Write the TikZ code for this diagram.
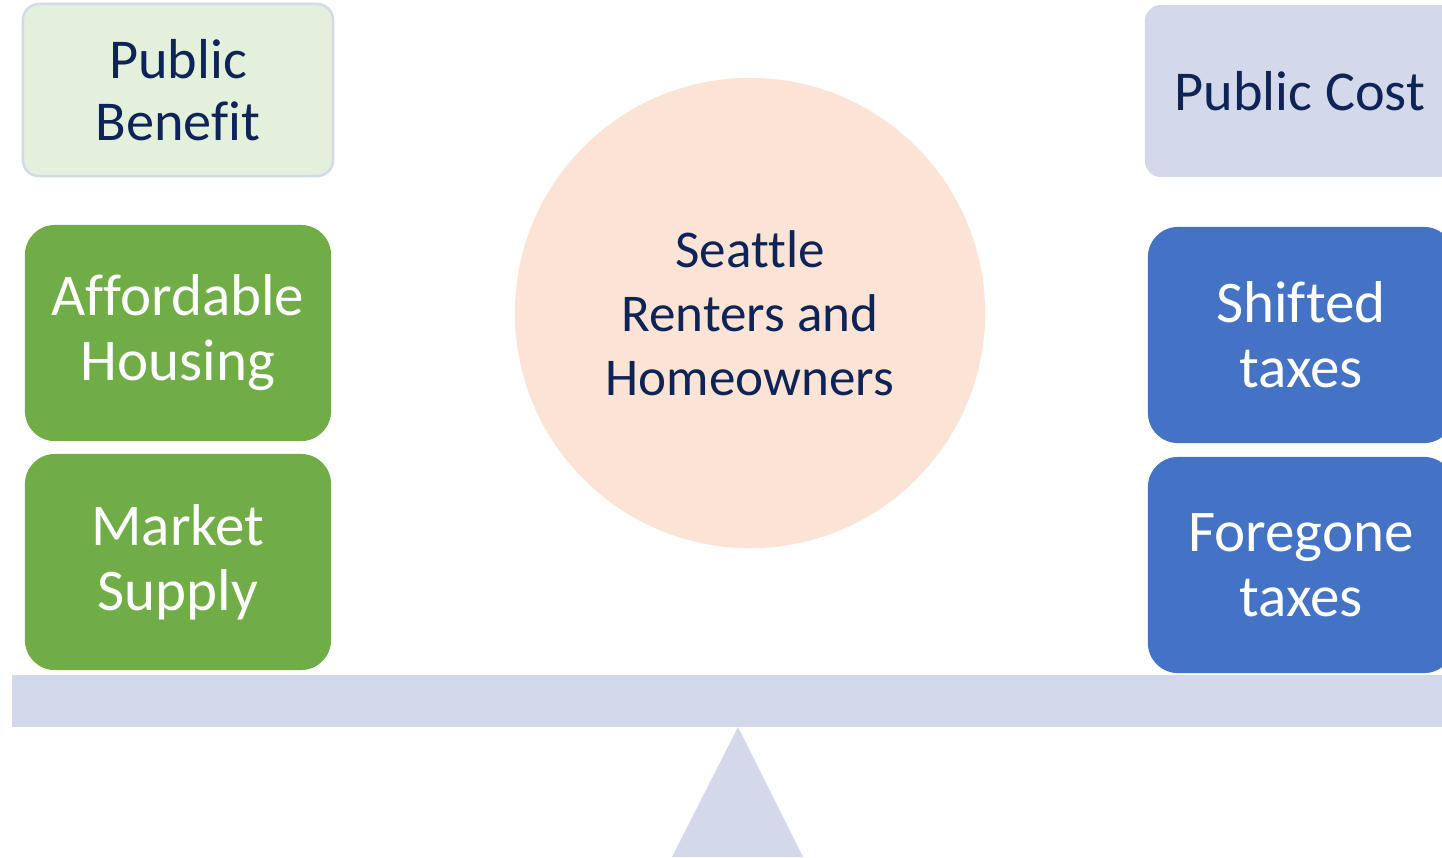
\documentclass[tikz,border=0pt]{standalone}
\usepackage{fontspec}
\setmainfont[Ligatures=NoCommon]{Carlito}
\usetikzlibrary{shapes,calc,positioning}
\definecolor{navy}{HTML}{0E2356}
\definecolor{pale}{HTML}{E3F0DC}
\definecolor{lilac}{HTML}{D3D9EB}
\definecolor{leaf}{HTML}{70AD47}
\definecolor{royal}{HTML}{4472C4}
\definecolor{peach}{HTML}{FBE4D6}
\tikzset{head/.style={rectangle,rounded corners=1.6mm,minimum width=3.1cm,minimum height=1.72cm,align=center,text=navy,font=\fontsize{16}{17.6}\selectfont}}
\tikzset{itemg/.style={rectangle,rounded corners=3mm,fill=leaf,minimum width=3.06cm,minimum height=2.16cm,align=center,text=white,font=\fontsize{16.8}{18.5}\selectfont}}
\tikzset{itemb/.style={itemg,fill=royal}}

\begin{document}
\begin{tikzpicture}[x=0.01cm,y=-0.01cm]
\useasboundingbox (0,0) rectangle (1442,857);
\clip (0,0) rectangle (1442,857);

\node [head,fill=pale,draw=lilac,line width=0.7pt] at (178,90) (pb) {Public\\Benefit};
\node [itemg] at (178,333) (ah) {Affordable\\Housing};
\node [itemg] at (178,562) (ms) {Market\\Supply};

\node [head,fill=lilac] at (1300,91) (pc) {Public Cost};
\node [itemb] at (1301,335) (st) {Shifted\\taxes};
\node [itemb] at (1301,565) (ft) {Foregone\\taxes};

\node [circle,fill=peach,minimum size=4.7cm,align=center,text=navy,font=\fontsize{15.1}{18.2}\selectfont] at (750,313) (srh) {Seattle\\Renters and\\Homeowners};

% the scale beam and its pivot
\fill [lilac] (12,675) rectangle (1442,727);
\fill [lilac] (738,727) -- (803,857) -- (672,857) -- cycle;
\end{tikzpicture}
\end{document}
